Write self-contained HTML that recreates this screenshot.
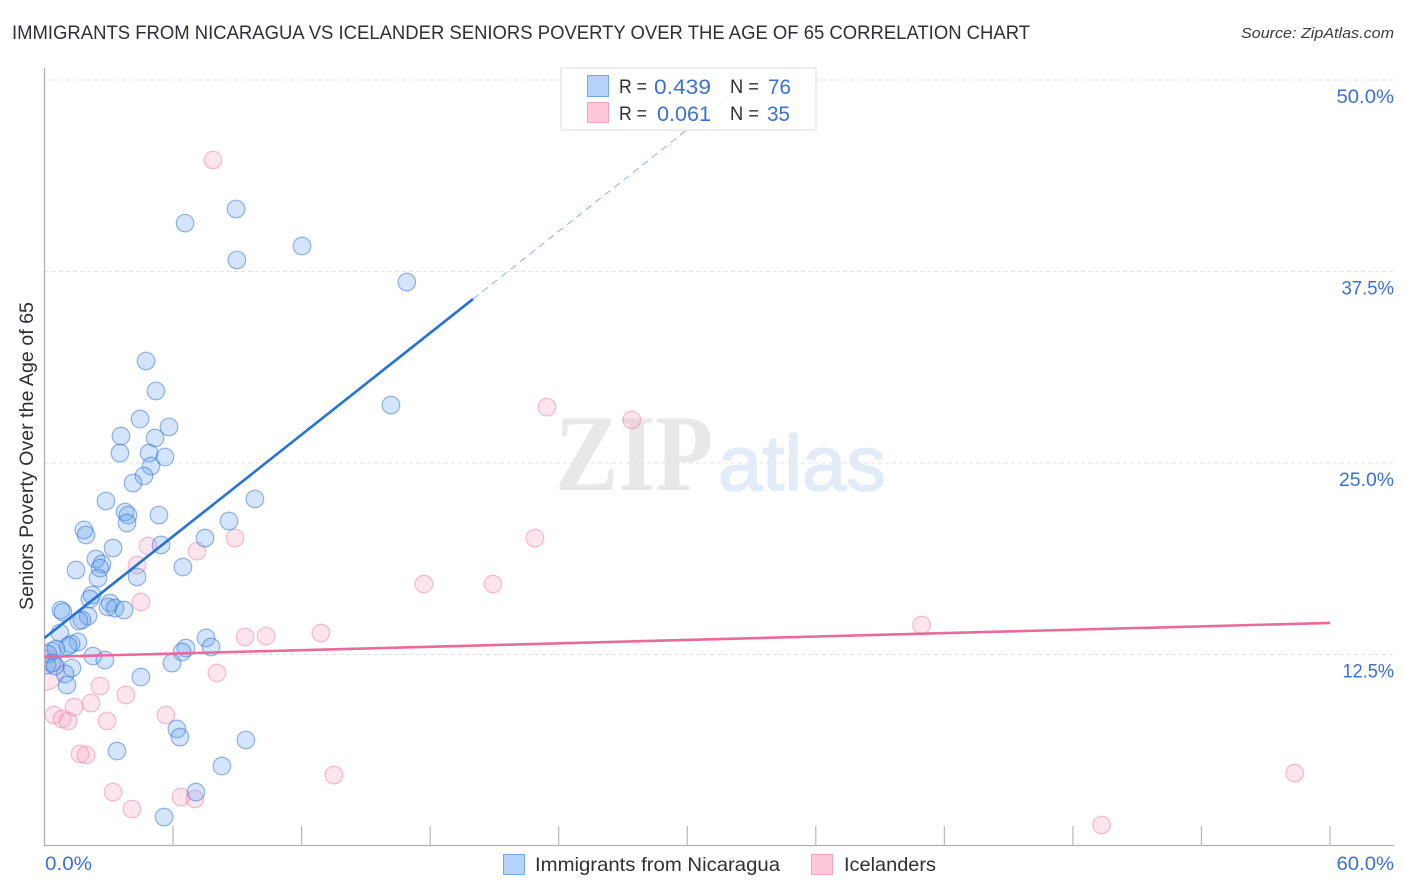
<!DOCTYPE html>
<html lang="en">
<head>
<meta charset="utf-8">
<title>Immigrants from Nicaragua vs Icelander Seniors Poverty Correlation Chart</title>
<style>
html,body{margin:0;padding:0;background:#fff;}
svg{display:block;}
text{font-family:"Liberation Sans",sans-serif;}
</style>
</head>
<body>
<svg id="chart" xmlns="http://www.w3.org/2000/svg" width="1406" height="892" viewBox="0 0 1406 892">
  <defs><clipPath id="plot-clip"><rect x="45" y="60" width="1349" height="785"/></clipPath></defs>
  <text x="12" y="39" font-size="19.5" fill="#2f2f35" textLength="1018" lengthAdjust="spacingAndGlyphs">IMMIGRANTS FROM NICARAGUA VS ICELANDER SENIORS POVERTY OVER THE AGE OF 65 CORRELATION CHART</text>
  <text x="1394" y="38" font-size="15" font-style="italic" fill="#3a3a40" text-anchor="end" textLength="153" lengthAdjust="spacingAndGlyphs">Source: ZipAtlas.com</text>
  <g>
    <text x="555" y="490" font-size="109" font-weight="bold" fill="#e8e8e8" style="font-family:'Liberation Serif',serif" textLength="158" lengthAdjust="spacingAndGlyphs">ZIP</text>
    <text x="718" y="490" font-size="78" fill="#e2ebf8" stroke="#e2ebf8" stroke-width="1.5" textLength="168" lengthAdjust="spacingAndGlyphs">atlas</text>
  </g>
  <g id="grid"></g>
  <g id="axes"></g>
  <text transform="translate(33,456) rotate(-90)" font-size="19" fill="#2f2f35" text-anchor="middle" textLength="308" lengthAdjust="spacingAndGlyphs">Seniors Poverty Over the Age of 65</text>
  <g id="marks" clip-path="url(#plot-clip)"></g>
  <g id="trends"></g>
  <g>
    <rect x="561" y="68" width="255" height="62" fill="#fff" fill-opacity="0.82" stroke="#dedede" stroke-width="1"/>
    <rect x="587.5" y="75.5" width="21" height="21" fill="#b5d2f8" stroke="#7aa7e4"/>
    <rect x="587.5" y="102.5" width="21" height="20" fill="#fcc8da" stroke="#f0a5c0"/>
    <text x="619" y="93" font-size="19" fill="#2f2f35" textLength="28" lengthAdjust="spacingAndGlyphs">R =</text>
    <text x="654" y="94" font-size="21" fill="#3b71cf" textLength="57" lengthAdjust="spacingAndGlyphs">0.439</text>
    <text x="730" y="93" font-size="19" fill="#2f2f35" textLength="29" lengthAdjust="spacingAndGlyphs">N =</text>
    <text x="768" y="94" font-size="21" fill="#3b71cf" textLength="23" lengthAdjust="spacingAndGlyphs">76</text>
    <text x="619" y="120" font-size="19" fill="#2f2f35" textLength="28" lengthAdjust="spacingAndGlyphs">R =</text>
    <text x="657" y="121" font-size="21" fill="#3b71cf" textLength="54" lengthAdjust="spacingAndGlyphs">0.061</text>
    <text x="730" y="120" font-size="19" fill="#2f2f35" textLength="29" lengthAdjust="spacingAndGlyphs">N =</text>
    <text x="767" y="121" font-size="21" fill="#3b71cf" textLength="23" lengthAdjust="spacingAndGlyphs">35</text>
  </g>
  <g>
    <rect x="503.5" y="854.5" width="21" height="20" fill="#b5d2f8" stroke="#7aa7e4"/>
    <text x="535" y="871" font-size="19.5" fill="#2f2f35" textLength="245" lengthAdjust="spacingAndGlyphs">Immigrants from Nicaragua</text>
    <rect x="811.5" y="854.5" width="21" height="20" fill="#fcc8da" stroke="#f0a5c0"/>
    <text x="844" y="871" font-size="19.5" fill="#2f2f35" textLength="92" lengthAdjust="spacingAndGlyphs">Icelanders</text>
  </g>
</svg>
<script>
const yTickValues = [12.5, 25, 37.5, 50];
const yTickLabels = ['12.5%', '25.0%', '37.5%', '50.0%'];
const xTickValues = [6, 12, 18, 24, 30, 36, 42, 48, 54, 60];
const xEndLabels = ['0.0%', '60.0%'];

const nicaraguaX = [6.56,8.94,8.98,12.02,16.91,4.74,5.20,16.17,4.46,5.81,5.16,3.57,3.52,4.88,5.62,4.97,4.64,4.13,2.87,9.82,3.76,3.90,5.34,3.85,8.61,1.84,1.94,7.49,5.44,3.20,2.40,6.46,1.47,2.68,2.59,2.50,4.32,2.22,2.12,3.06,2.96,3.29,3.71,0.77,0.86,2.03,1.75,1.61,0.72,7.54,7.77,6.60,6.42,1.56,1.24,1.10,2.26,2.82,5.95,1.28,0.96,4.50,1.05,6.18,6.32,9.40,3.38,8.28,7.07,5.58,0.54,0.35,0.16,0.35,0.12,0.49];
const nicaraguaY = [40.66,41.58,38.25,39.16,36.81,31.66,29.70,28.78,27.87,27.35,26.63,26.76,25.65,25.65,25.39,24.80,24.15,23.69,22.52,22.65,21.80,21.60,21.60,21.08,21.21,20.63,20.30,20.10,19.65,19.45,18.73,18.21,18.01,18.41,18.14,17.49,17.56,16.38,16.12,15.86,15.60,15.53,15.40,15.40,15.27,15.01,14.75,14.69,13.90,13.58,12.99,12.92,12.66,13.32,13.18,13.05,12.40,12.14,11.94,11.62,11.23,11.03,10.51,7.64,7.11,6.92,6.20,5.22,3.52,1.89,12.86,12.73,12.53,11.94,11.81,11.75];

const icelandersX = [7.86,23.45,27.41,22.89,17.71,20.93,4.83,7.12,8.89,4.32,4.50,12.90,9.36,10.34,40.94,8.05,2.59,3.80,2.17,1.38,5.67,0.44,0.82,1.10,2.92,1.66,1.94,13.51,3.20,4.08,6.37,7.02,58.35,49.34,0.0];
const icelandersY = [44.78,28.65,27.81,20.10,17.10,17.10,19.58,19.25,20.10,18.34,15.93,13.90,13.64,13.71,14.42,11.29,10.44,9.86,9.33,9.07,8.55,8.55,8.29,8.16,8.16,6.00,5.94,4.63,3.52,2.41,3.20,3.07,4.76,1.37,11.49];
const icelandersWeight = [1,1,1,1,1,1,1,1,1,1,1,1,1,1,1,1,1,1,1,1,1,1,1,1,1,1,1,1,1,1,1,1,1,1,2.3];

const nicaraguaTrendX = [0, 20, 32.9];
const nicaraguaTrendY = [13.58, 35.70, 49.97];
const icelandersTrendX = [0, 60];
const icelandersTrendY = [12.34, 14.56];

const NS = 'http://www.w3.org/2000/svg';
function xScale(v) { return 44.5 + v * (1330 - 44.5) / 60; }
function yScale(v) { return 846 - v * (846 - 80) / 50; }
function make(tag, attrs, parent) {
  const el = document.createElementNS(NS, tag);
  for (const k in attrs) el.setAttribute(k, attrs[k]);
  parent.appendChild(el);
  return el;
}
function labelWidth(text) {
  const base = text.length === 4 ? 47 : 57.5;
  return base - (text.charAt(0) === '1' ? 6 : 0) - (text.charAt(0) === '3' ? 5 : 0) - (text.charAt(0) === '2' ? 2.5 : 0);
}

const gridG = document.getElementById('grid');
const axesG = document.getElementById('axes');
const marksG = document.getElementById('marks');
const trendsG = document.getElementById('trends');

yTickValues.forEach(function (v, i) {
  const line = make('line', {x1: 45, x2: 1394, y1: yScale(v), y2: yScale(v), stroke: '#e2e2e2', 'stroke-width': 1, 'stroke-dasharray': '4 3'}, gridG);
  
  
  const label = make('text', {x: 1394, y: yScale(v) + 23, 'font-size': 19, fill: '#3b71cf', 'text-anchor': 'end', textLength: labelWidth(yTickLabels[i]), lengthAdjust: 'spacingAndGlyphs'}, axesG);
  label.textContent = yTickLabels[i];
  
  
});

const yAxis = make('line', {x1: 44.5, x2: 44.5, y1: 68, y2: 846, stroke: '#b0b0b0', 'stroke-width': 1.3}, axesG);


const xAxis = make('line', {x1: 44, x2: 1394, y1: 845.5, y2: 845.5, stroke: '#b0b0b0', 'stroke-width': 1.3}, axesG);



xTickValues.forEach(function (v) {
  const tick = make('line', {x1: xScale(v), x2: xScale(v), y1: 826, y2: 846, stroke: '#b8b8b8', 'stroke-width': 1.2}, axesG);
  
  
});

const xStart = make('text', {x: 45, y: 870, 'font-size': 19, fill: '#3b71cf', textLength: labelWidth(xEndLabels[0]), lengthAdjust: 'spacingAndGlyphs'}, axesG);
xStart.textContent = xEndLabels[0];


const xEnd = make('text', {x: 1394, y: 870, 'font-size': 19, fill: '#3b71cf', 'text-anchor': 'end', textLength: labelWidth(xEndLabels[1]), lengthAdjust: 'spacingAndGlyphs'}, axesG);
xEnd.textContent = xEndLabels[1];



icelandersX.forEach(function (v, i) {
  const c = make('circle', {cx: xScale(v), cy: yScale(icelandersY[i]), r: 8.8 * icelandersWeight[i], fill: 'rgba(250,160,190,0.28)', stroke: 'rgba(235,125,165,0.5)', 'stroke-width': 1.2}, marksG);
  
  
});
nicaraguaX.forEach(function (v, i) {
  const c = make('circle', {cx: xScale(v), cy: yScale(nicaraguaY[i]), r: 8.8, fill: 'rgba(100,160,240,0.28)', stroke: 'rgba(45,110,210,0.5)', 'stroke-width': 1.2}, marksG);
  
  
});

const blueSolid = make('line', {x1: xScale(nicaraguaTrendX[0]), y1: yScale(nicaraguaTrendY[0]), x2: xScale(nicaraguaTrendX[1]), y2: yScale(nicaraguaTrendY[1]), stroke: '#2472d8', 'stroke-width': 2.6}, trendsG);


const blueDash = make('line', {x1: xScale(nicaraguaTrendX[1]), y1: yScale(nicaraguaTrendY[1]), x2: xScale(nicaraguaTrendX[2]), y2: yScale(nicaraguaTrendY[2]), stroke: '#8fb0e4', 'stroke-width': 1, 'stroke-dasharray': '7 5'}, trendsG);


const pinkLine = make('line', {x1: xScale(icelandersTrendX[0]), y1: yScale(icelandersTrendY[0]), x2: xScale(icelandersTrendX[1]), y2: yScale(icelandersTrendY[1]), stroke: '#ea6a9a', 'stroke-width': 2.6}, trendsG);


</script>
</body>
</html>
